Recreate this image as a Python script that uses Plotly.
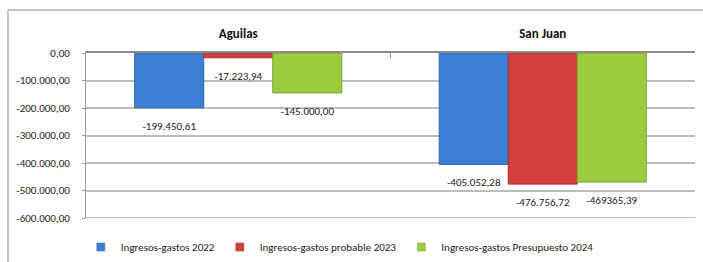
import plotly.graph_objects as go

categories = ["Aguilas", "San Juan"]
series_names = ["Ingresos-gastos 2022", "Ingresos-gastos probable 2023", "Ingresos-gastos Presupuesto 2024"]
values_2022 = [-199450.61, -405052.28]
values_2023 = [-17223.94, -476756.72]
values_2024 = [-145000.00, -469365.39]
labels_2022 = ["-199.450,61", "-405.052,28"]
labels_2023 = ["-17.223,94", "-476.756,72"]
labels_2024 = ["-145.000,00", "-469365,39"]
tick_vals = [0, -100000, -200000, -300000, -400000, -500000, -600000]
tick_text = ["0,00", "-100.000,00", "-200.000,00", "-300.000,00", "-400.000,00", "-500.000,00", "-600.000,00"]

colors = ["#3b7fd4", "#d2403b", "#9dcb3f"]
edge = ["#2f67ad", "#a8302c", "#7ea531"]
FONT = "Carlito, Lato, sans-serif"

fig = go.Figure()
all_vals = [values_2022, values_2023, values_2024]
all_labels = [labels_2022, labels_2023, labels_2024]
for i in range(3):
    fig.add_trace(go.Bar(
        x=categories, y=all_vals[i], name=series_names[i],
        marker=dict(color=colors[i], line=dict(color=edge[i], width=1)),
        offsetgroup=str(i), showlegend=False,
    ))
for i in range(3):
    fig.add_trace(go.Scatter(
        x=categories, y=all_vals[i], mode="markers+text",
        text=all_labels[i], textposition="bottom center",
        textfont=dict(family=FONT, size=11, color="#1a1a1a"),
        marker=dict(size=20, opacity=0),
        offsetgroup=str(i), showlegend=False, hoverinfo="skip", cliponaxis=False,
    ))
# legend entries (small square swatches)
for i in range(3):
    fig.add_trace(go.Scatter(
        x=[None], y=[None], mode="markers", name=series_names[i],
        marker=dict(symbol="square", size=8, color=colors[i], line=dict(color=edge[i], width=0.5)),
        showlegend=True,
    ))

fig.update_layout(
    width=703, height=262,
    margin=dict(l=86, r=8, t=53, b=44),
    paper_bgcolor="white", plot_bgcolor="white",
    barmode="group", bargap=0.32, bargroupgap=0,
    scattermode="group", scattergap=0.32,
    font=dict(family=FONT, size=11, color="#1a1a1a"),
    showlegend=True,
    legend=dict(orientation="h", x=0.115, xref="container", xanchor="left",
                y=0.057, yref="container", yanchor="middle",
                itemwidth=30, tracegroupgap=0,
                font=dict(family=FONT, size=11, color="#1a1a1a"), bgcolor="rgba(0,0,0,0)"),
    xaxis=dict(side="top", showline=True, linecolor="#8c8c8c", linewidth=2,
               ticks="inside", tickson="boundaries", ticklen=5, tickcolor="#8c8c8c",
               tickfont=dict(family=FONT, size=13, color="#111", weight="bold"),
               ticklabelstandoff=8, showgrid=False, fixedrange=True, automargin=False),
    yaxis=dict(range=[-600000, 0], tickvals=tick_vals, ticktext=tick_text,
               showline=True, linecolor="#9a9a9a", linewidth=1,
               showgrid=True, gridcolor="#bdbdbd", gridwidth=2,
               zeroline=False, ticks="outside", ticklen=3, tickcolor="#9a9a9a",
               ticklabelstandoff=10, automargin=False, fixedrange=True,
               tickfont=dict(family=FONT, size=11, color="#1a1a1a")),
    shapes=[
        dict(type="line", xref="paper", yref="y", x0=0, x1=1, y0=tick_vals[-1], y1=tick_vals[-1],
             line=dict(color="#bdbdbd", width=2), layer="below"),
        dict(type="line", xref="paper", yref="paper", x0=-0.128, x1=1.02, y0=1.26, y1=1.26,
             line=dict(color="#c4c4c4", width=2)),
        dict(type="line", xref="paper", yref="paper", x0=-0.128, x1=-0.128, y0=1.26, y1=-0.3,
             line=dict(color="#c4c4c4", width=2)),
    ],
)

fig.write_html("out.html", config={"displayModeBar": False},
               post_script="document.body.style.margin='0';document.body.style.overflow='hidden';")
